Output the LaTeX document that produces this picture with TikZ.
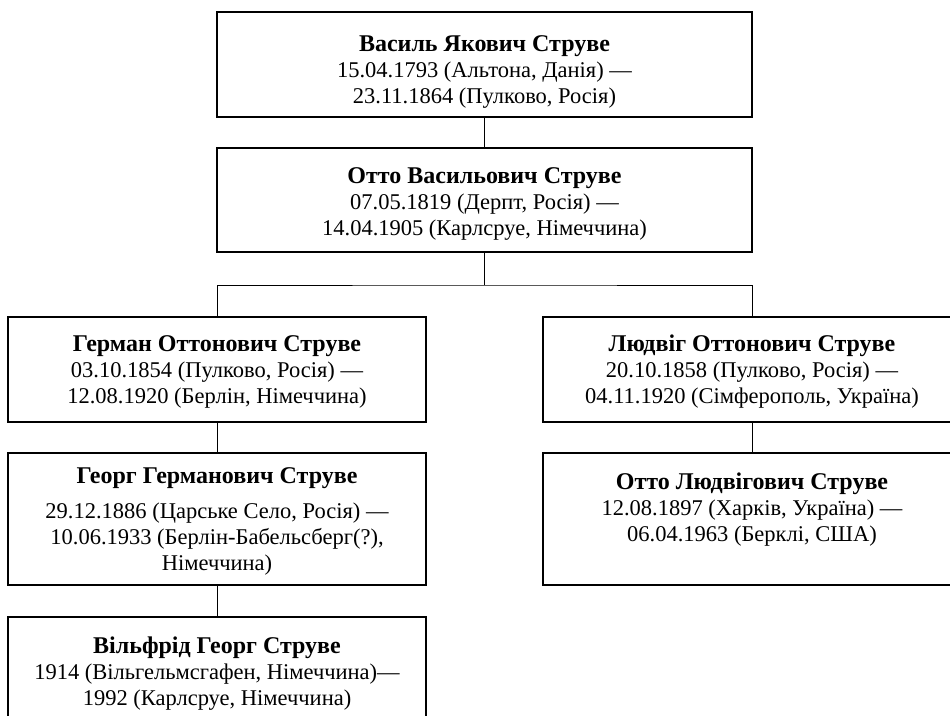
\documentclass[tikz,border=0pt]{standalone}
\usepackage{fontspec}
\setmainfont{Liberation Serif}
\newcommand{\pname}[1]{{\fontsize{24}{26}\selectfont\bfseries #1}}
\begin{document}
\begin{tikzpicture}[x=1pt,y=-1pt,
  box/.style={draw, line width=1.5pt, rectangle, inner sep=0pt, outer sep=0pt},
  wide/.style={minimum width=535pt},
  narrow/.style={minimum width=418pt},
  txt/.style={align=center, font=\fontsize{22.5}{26}\selectfont, inner sep=0pt},
  link/.style={line width=1pt}]
\useasboundingbox (0,0) rectangle (950,715);
\clip (0,0) rectangle (950,715);
% boxes
\node[box, wide, minimum height=105pt] (b1) at (484.5,64.5) {};
\node[box, wide, minimum height=104pt] (b2) at (484.5,200) {};
\node[box, narrow, minimum height=105pt] (b3) at (217,369.5) {};
\node[box, narrow, minimum height=105pt] (b4) at (752,369.5) {};
\node[box, narrow, minimum height=132pt] (b5) at (217,519) {};
\node[box, narrow, minimum height=132pt] (b6) at (752,519) {};
\node[box, narrow, minimum height=130pt] (b7) at (217,682) {};
% texts
\node[txt] (t1) at (484.5,72) {\pname{Василь Якович Струве}\\15.04.1793 (Альтона, Данія) —\\23.11.1864 (Пулково, Росія)};
\node[txt] (t2) at (484.5,204) {\pname{Отто Васильович Струве}\\07.05.1819 (Дерпт, Росія) —\\14.04.1905 (Карлсруе, Німеччина)};
\node[txt] (t3) at (217,372) {\pname{Герман Оттонович Струве}\\03.10.1854 (Пулково, Росія) —\\12.08.1920 (Берлін, Німеччина)};
\node[txt] (t4) at (752,372) {\pname{Людвіг Оттонович Струве}\\20.10.1858 (Пулково, Росія) —\\04.11.1920 (Сімферополь, Україна)};
\node[txt] (t5) at (217,521) {\pname{Георг Германович Струве}\\[9pt]29.12.1886 (Царське Село, Росія) —\\10.06.1933 (Берлін-Бабельсберг(?),\\Німеччина)};
\node[txt] (t6) at (752,510) {\pname{Отто Людвігович Струве}\\12.08.1897 (Харків, Україна) —\\06.04.1963 (Берклі, США)};
\node[txt] (t7) at (217,674) {\pname{Вільфрід Георг Струве}\\1914 (Вільгельмсгафен, Німеччина)—\\1992 (Карлсруе, Німеччина)};
% connectors
\coordinate (j) at (484.5,285);
\draw[link] (b1.south) -- (b2.north);
\draw[link] (b2.south) -- (j);
\draw[link] (b3.north) |- (j) -| (b4.north);
\draw[link] (b3.south) -- (b5.north);
\draw[link] (b4.south) -- (b6.north);
\draw[link] (b5.south) -- (b7.north);
\end{tikzpicture}
\end{document}
